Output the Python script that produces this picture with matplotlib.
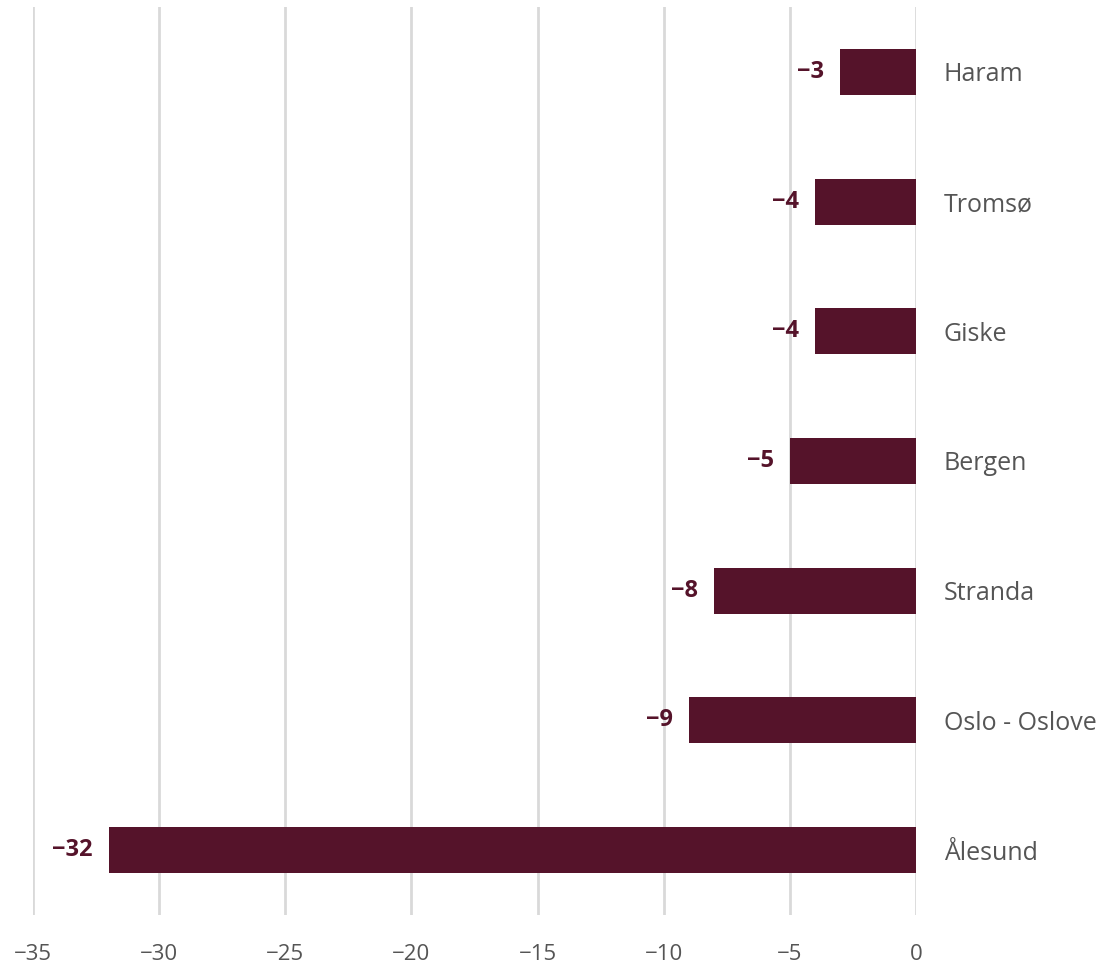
import matplotlib
matplotlib.use("Agg")
import matplotlib.pyplot as plt

categories = ["Haram", "Tromsø", "Giske", "Bergen", "Stranda", "Oslo - Oslove", "Ålesund"]
values = [-3, -4, -4, -5, -8, -9, -32]
xticks = [-35, -30, -25, -20, -15, -10, -5, 0]

plt.rcParams['font.family'] = ['Open Sans', 'DejaVu Sans']

fig = plt.figure(figsize=(11.07, 9.68), dpi=100)
ax = fig.add_axes([33/1107, 1 - 915/968, (916-33)/1107, (915-7)/968])

bar_color = "#55132a"
ypos = list(range(len(categories)))
ax.barh(ypos, values, height=0.355, color=bar_color, zorder=3)

for y, v in zip(ypos, values):
    ax.annotate(f"{v}".replace("-", "−"), xy=(v, y), xytext=(-16, 0), textcoords="offset pixels",
                ha="right", va="center", fontsize=17, fontweight="bold", color=bar_color)

ax.set_xlim(-35, 0)
ax.set_ylim(len(categories) - 0.5, -0.5)
ax.set_xticks(xticks)
ax.set_xticklabels([str(t).replace("-", "−") for t in xticks], fontsize=16, color="#555555")
ax.yaxis.tick_right()
ax.set_yticks(ypos)
ax.set_yticklabels(categories, fontsize=18, color="#555555")
ax.tick_params(axis="y", length=0, pad=20)
ax.tick_params(axis="x", length=0, pad=21)
for s in ax.spines.values():
    s.set_visible(False)
ax.grid(axis="x", color="#d9d9d9", linewidth=2, zorder=0)
ax.set_axisbelow(True)

fig.savefig("out.png", dpi=100)
